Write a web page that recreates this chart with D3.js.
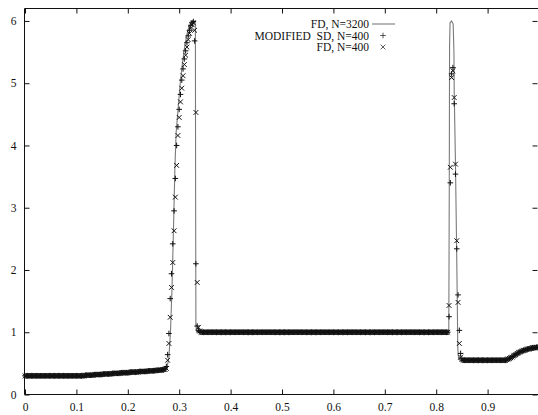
<!DOCTYPE html>
<html><head><meta charset="utf-8">
<script src="https://cdn.jsdelivr.net/npm/d3@7"></script>
<style>
html,body{margin:0;padding:0;background:#fff;}
svg{display:block;}
text{font-family:"Liberation Serif","Times New Roman",serif;fill:#111;}
</style></head>
<body>
<div id="chart"></div>
<script>
// ---------------- DATA ----------------
const xTickValues = [0, 0.1, 0.2, 0.3, 0.4, 0.5, 0.6, 0.7, 0.8, 0.9, 1.0];
const xTickLabels = ["0", "0.1", "0.2", "0.3", "0.4", "0.5", "0.6", "0.7", "0.8", "0.9", ""];
const yTickValues = [0, 1, 2, 3, 4, 5, 6];
const yTickLabels = ["0", "1", "2", "3", "4", "5", "6"];
const legendLabels = ["FD, N=3200", "MODIFIED  SD, N=400", "FD, N=400"];

// reference solution FD, N=3200 (breakpoints)
const fd3200X = [0, 0.11, 0.27, 0.276, 0.280, 0.283, 0.286, 0.289, 0.2915, 0.294, 0.298, 0.302, 0.306, 0.310, 0.314, 0.318, 0.322, 0.326, 0.331, 0.3315, 0.332, 0.3325, 0.334,
  0.8245, 0.8255, 0.826, 0.827, 0.830, 0.833, 0.8345, 0.835, 0.8375, 0.8395, 0.841, 0.842, 0.8435, 0.846,
  0.935, 0.945, 0.955, 0.965, 0.975, 0.985, 1.0];
const fd3200Y = [0.30, 0.30, 0.40, 0.42, 0.60, 1.0, 1.7, 2.7, 3.6, 4.2, 4.6, 5.0, 5.3, 5.55, 5.75, 5.88, 5.96, 6.0, 6.0, 5.9, 3.0, 1.1, 1.0,
  1.0, 3.5, 5.6, 5.97, 6.0, 5.95, 5.5, 4.9, 3.7, 2.5, 1.5, 0.75, 0.57, 0.55,
  0.55, 0.58, 0.64, 0.69, 0.72, 0.74, 0.76];

// N=400 grid: cell i sits at x = i / 400
const gridN = 400;

// FD, N=400 (x markers)
const fd400Y = [
  0.30,0.30,0.30,0.30,0.30,0.30,0.30,0.30,0.30,0.30,
  0.30,0.30,0.30,0.30,0.30,0.30,0.30,0.30,0.30,0.30,
  0.30,0.30,0.30,0.30,0.30,0.30,0.30,0.30,0.30,0.30,
  0.30,0.30,0.30,0.30,0.30,0.30,0.30,0.30,0.30,0.30,
  0.30,0.30,0.30,0.30,0.30,0.30,0.30,
  0.31,0.31,0.31,0.31,0.31,0.31,0.31,
  0.32,0.32,0.32,0.32,0.32,0.32,0.32,
  0.33,0.33,0.33,0.33,0.33,0.33,0.33,
  0.34,0.34,0.34,0.34,0.34,0.34,0.34,
  0.35,0.35,0.35,0.35,0.35,0.35,0.35,
  0.36,0.36,0.36,0.36,0.36,0.36,0.36,
  0.37,0.37,0.37,0.37,0.37,0.37,0.37,
  0.38,0.38,0.38,0.38,0.38,0.38,
  0.39,0.39,0.39,0.39,0.39,
  0.40,0.40,0.40,
  0.42,0.55,0.82,1.24,1.72,2.12,2.63,3.17,3.68,4.16,
  4.45,4.70,4.92,5.12,5.30,5.45,5.58,5.70,5.80,5.88,
  5.94,5.97,5.85,4.53,1.80,1.08,1.02,
  1,1,1,1,1,1,1,1,1,1,
  1,1,1,1,1,1,1,1,1,1,
  1,1,1,1,1,1,1,1,1,1,
  1,1,1,1,1,1,1,1,1,1,
  1,1,1,1,1,1,1,1,1,1,
  1,1,1,1,1,1,1,1,1,1,
  1,1,1,1,1,1,1,1,1,1,
  1,1,1,1,1,1,1,1,1,1,
  1,1,1,1,1,1,1,1,1,1,
  1,1,1,1,1,1,1,1,1,1,
  1,1,1,1,1,1,1,1,1,1,
  1,1,1,1,1,1,1,1,1,1,
  1,1,1,1,1,1,1,1,1,1,
  1,1,1,1,1,1,1,1,1,1,
  1,1,1,1,1,1,1,1,1,1,
  1,1,1,1,1,1,1,1,1,1,
  1,1,1,1,1,1,1,1,1,1,
  1,1,1,1,1,1,1,1,1,1,
  1,1,1,1,1,1,1,1,1,1,
  1,1,1,
  1.43,3.65,5.09,5.20,4.77,3.70,2.47,1.48,0.82,0.60,0.56,
  0.55,0.55,0.55,0.55,0.55,0.55,0.55,0.55,0.55,0.55,
  0.55,0.55,0.55,0.55,0.55,0.55,0.55,0.55,0.55,0.55,
  0.55,0.55,0.55,0.55,0.55,0.55,0.55,0.55,0.55,0.55,
  0.55,0.55,0.55,0.55,
  0.56,0.57,0.58,0.59,0.60,0.62,0.63,0.64,0.66,0.67,
  0.68,0.69,0.70,0.71,0.71,0.72,0.73,0.73,0.74,0.74,
  0.75,0.75,0.75,0.76,0.76
];

// MODIFIED SD, N=400 (+ markers)
const sd400Y = [
  0.30,0.30,0.30,0.30,0.30,0.30,0.30,0.30,0.30,0.30,
  0.30,0.30,0.30,0.30,0.30,0.30,0.30,0.30,0.30,0.30,
  0.30,0.30,0.30,0.30,0.30,0.30,0.30,0.30,0.30,0.30,
  0.30,0.30,0.30,0.30,0.30,0.30,0.30,0.30,0.30,0.30,
  0.30,0.30,0.30,0.30,0.30,0.30,0.30,
  0.31,0.31,0.31,0.31,0.31,0.31,0.31,
  0.32,0.32,0.32,0.32,0.32,0.32,0.32,
  0.33,0.33,0.33,0.33,0.33,0.33,0.33,
  0.34,0.34,0.34,0.34,0.34,0.34,0.34,
  0.35,0.35,0.35,0.35,0.35,0.35,0.35,
  0.36,0.36,0.36,0.36,0.36,0.36,0.36,
  0.37,0.37,0.37,0.37,0.37,0.37,0.37,
  0.38,0.38,0.38,0.38,0.38,0.38,
  0.39,0.39,0.39,0.39,0.39,
  0.40,0.40,0.41,
  0.45,0.64,0.98,1.54,1.94,2.42,2.95,3.47,4.00,4.30,
  4.58,4.82,5.05,5.23,5.39,5.52,5.65,5.76,5.85,5.93,
  5.97,5.99,5.68,2.10,1.10,1.03,1.01,
  1,1,1,1,1,1,1,1,1,1,
  1,1,1,1,1,1,1,1,1,1,
  1,1,1,1,1,1,1,1,1,1,
  1,1,1,1,1,1,1,1,1,1,
  1,1,1,1,1,1,1,1,1,1,
  1,1,1,1,1,1,1,1,1,1,
  1,1,1,1,1,1,1,1,1,1,
  1,1,1,1,1,1,1,1,1,1,
  1,1,1,1,1,1,1,1,1,1,
  1,1,1,1,1,1,1,1,1,1,
  1,1,1,1,1,1,1,1,1,1,
  1,1,1,1,1,1,1,1,1,1,
  1,1,1,1,1,1,1,1,1,1,
  1,1,1,1,1,1,1,1,1,1,
  1,1,1,1,1,1,1,1,1,1,
  1,1,1,1,1,1,1,1,1,1,
  1,1,1,1,1,1,1,1,1,1,
  1,1,1,1,1,1,1,1,1,1,
  1,1,1,1,1,1,1,1,1,1,
  1,1,1,
  1.25,3.40,5.15,5.25,4.67,3.54,2.34,1.60,1.03,0.66,0.57,
  0.55,0.55,0.55,0.55,0.55,0.55,0.55,0.55,0.55,0.55,
  0.55,0.55,0.55,0.55,0.55,0.55,0.55,0.55,0.55,0.55,
  0.55,0.55,0.55,0.55,0.55,0.55,0.55,0.55,0.55,0.55,
  0.55,0.55,0.55,0.55,
  0.56,0.57,0.58,0.59,0.60,0.62,0.63,0.64,0.66,0.67,
  0.68,0.69,0.70,0.71,0.71,0.72,0.73,0.73,0.74,0.74,
  0.75,0.75,0.75,0.76,0.76
];

// ---------------- DRAW ----------------
const W = 538, H = 415;
const plot = {left: 24.5, top: 8.5, bottom: 394.5, right: 539};
const svg = d3.select("#chart").append("svg").attr("width", W).attr("height", H);

const x = d3.scaleLinear().domain([0, 1]).range([plot.left + 0.5, plot.right]);
const y = d3.scaleLinear().domain([0, 6.2]).range([plot.bottom, plot.top]);

const tickLen = 5;
const frame = svg.append("g").attr("stroke", "#111").attr("stroke-width", 1).attr("fill", "none");
frame.append("line").attr("x1", plot.left).attr("x2", plot.left).attr("y1", plot.top).attr("y2", plot.bottom);
frame.append("line").attr("x1", plot.left).attr("x2", W).attr("y1", plot.top).attr("y2", plot.top);
frame.append("line").attr("x1", plot.left).attr("x2", W).attr("y1", plot.bottom).attr("y2", plot.bottom);

const xBottom = d3.axisBottom(x).tickValues(xTickValues).tickSize(-tickLen).tickPadding(8)
  .tickFormat((d, i) => xTickLabels[i]);
const gxb = svg.append("g").attr("transform", `translate(0,${plot.bottom})`).call(xBottom);
const xTop = d3.axisTop(x).tickValues(xTickValues).tickSize(-tickLen).tickFormat("");
const gxt = svg.append("g").attr("transform", `translate(0,${plot.top})`).call(xTop);
const yLeft = d3.axisLeft(y).tickValues(yTickValues).tickSize(-tickLen).tickPadding(8)
  .tickFormat((d, i) => yTickLabels[i]);
const gyl = svg.append("g").attr("transform", `translate(${plot.left},0)`).call(yLeft);
const yRight = d3.axisRight(y).tickValues(yTickValues).tickSize(-tickLen).tickFormat("");
const gyr = svg.append("g").attr("transform", `translate(${W - 0.5},0)`).call(yRight);

[gxb, gxt, gyl, gyr].forEach(g => {
  g.select(".domain").remove();
  g.selectAll(".tick line").attr("stroke", "#111").attr("stroke-width", 1);
  g.selectAll("text").style("font-family", '"Liberation Serif","Times New Roman",serif')
    .style("font-size", "11.5px").attr("fill", "#111");
});
gyl.selectAll("text").attr("x", -8);

const line = d3.line().x(d => x(d[0])).y(d => y(d[1]));
const refPts = fd3200X.map((v, i) => [v, fd3200Y[i]]);
svg.append("path").datum(refPts).attr("d", line)
  .attr("fill", "none").attr("stroke", "#7a7a7a").attr("stroke-width", 1.1);

const s = 2.8;
const plusPath = `M${-s},0H${s}M0,${-s}V${s}`;
const crossPath = `M${-s*0.85},${-s*0.85}L${s*0.85},${s*0.85}M${-s*0.85},${s*0.85}L${s*0.85},${-s*0.85}`;

const sdPts = sd400Y.map((v, i) => [i / gridN, v]);
const fdPts = fd400Y.map((v, i) => [i / gridN, v]);

svg.append("g").selectAll("path").data(sdPts).join("path")
  .attr("transform", d => `translate(${x(d[0])},${y(d[1])})`)
  .attr("d", plusPath).attr("stroke", "#111").attr("stroke-width", 1).attr("fill", "none");
svg.append("g").selectAll("path").data(fdPts).join("path")
  .attr("transform", d => `translate(${x(d[0])},${y(d[1])})`)
  .attr("d", crossPath).attr("stroke", "#111").attr("stroke-width", 1).attr("fill", "none");

const lg = svg.append("g");
const legendTextX = 369, legendRowsY = [24, 35.5, 47], legendSymX = 383;
legendLabels.forEach((t, i) => {
  lg.append("text").attr("x", legendTextX).attr("y", legendRowsY[i]).attr("dy", "0.35em")
    .attr("text-anchor", "end").style("font-size", "11.5px").style("white-space", "pre")
    .attr("xml:space", "preserve").text(t);
});
lg.append("line").attr("x1", 372).attr("x2", 395).attr("y1", legendRowsY[0]).attr("y2", legendRowsY[0])
  .attr("stroke", "#7a7a7a").attr("stroke-width", 1.1);
lg.append("path").attr("transform", `translate(${legendSymX},${legendRowsY[1]})`).attr("d", plusPath)
  .attr("stroke", "#333").attr("stroke-width", 0.8).attr("fill", "none");
lg.append("path").attr("transform", `translate(${legendSymX},${legendRowsY[2]})`).attr("d", crossPath)
  .attr("stroke", "#333").attr("stroke-width", 0.8).attr("fill", "none");
</script>
</body></html>
